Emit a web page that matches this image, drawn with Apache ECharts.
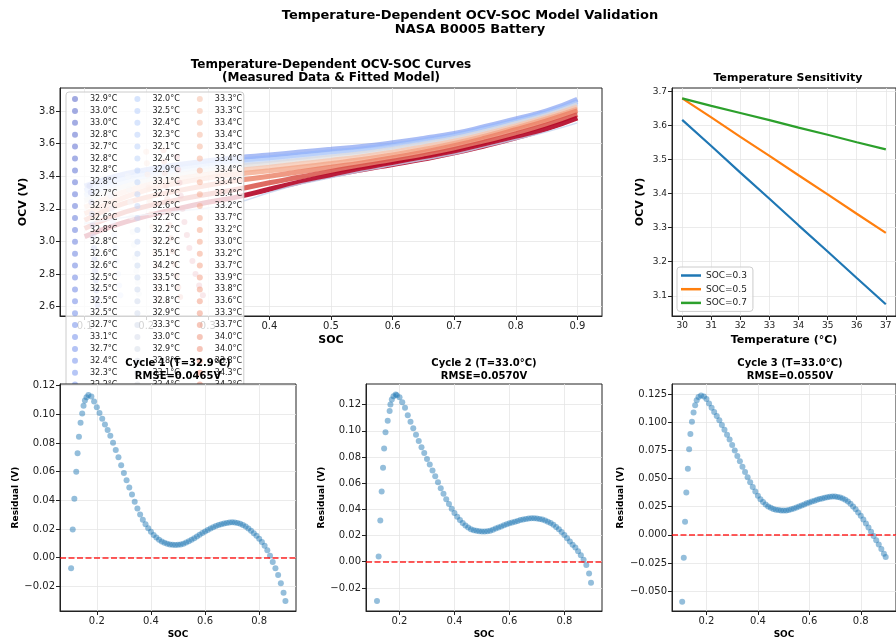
<!DOCTYPE html>
<html>
<head>
<meta charset="utf-8">
<title>Temperature-Dependent OCV-SOC Model Validation</title>
<script src="https://cdn.jsdelivr.net/npm/echarts@6/dist/echarts.min.js"></script>
<style>
  html, body { margin: 0; padding: 0; background: #fff; }
  #chart { width: 896px; height: 640px; }
</style>
</head>
<body>
<div id="chart"></div>
<script>
// ---- data ----
const totalCycles = 168;
// legend columns (visible part): cycles 1-25, 57-81, 113-137
const legendStartCycles = [1, 57, 113];
const tempsCol1 = [32.9, 33.0, 33.0, 32.8, 32.7, 32.8, 32.8, 32.8, 32.7, 32.7, 32.6, 32.8, 32.8, 32.6, 32.6, 32.5, 32.5, 32.5, 32.5, 32.7, 33.1, 32.7, 32.4, 32.3, 32.2];
const tempsCol2 = [32.0, 32.5, 32.4, 32.3, 32.1, 32.4, 32.9, 33.1, 32.7, 32.6, 32.2, 32.2, 32.2, 35.1, 34.2, 33.5, 33.1, 32.8, 32.9, 33.3, 33.0, 32.9, 32.8, 33.1, 32.4];
const tempsCol3 = [33.3, 33.3, 33.4, 33.4, 33.4, 33.4, 33.4, 33.4, 33.4, 33.2, 33.7, 33.2, 33.0, 33.2, 33.7, 33.9, 33.8, 33.6, 33.3, 33.7, 34.0, 34.0, 33.8, 34.3, 34.2];

// fitted OCV curves (representative cycles)
const fitSoc = [0.10, 0.15, 0.20, 0.25, 0.30, 0.35, 0.40, 0.45, 0.50, 0.55, 0.60, 0.65, 0.70, 0.75, 0.80, 0.85, 0.90];
const ocvCycle25  = [3.34, 3.40, 3.44, 3.47, 3.495, 3.515, 3.53, 3.548, 3.565, 3.582, 3.605, 3.632, 3.662, 3.705, 3.752, 3.80, 3.872];
const ocvCycle45  = [3.31, 3.375, 3.42, 3.452, 3.478, 3.498, 3.514, 3.532, 3.55, 3.567, 3.592, 3.62, 3.652, 3.694, 3.741, 3.79, 3.858];
const ocvCycle65  = [3.28, 3.35, 3.40, 3.433, 3.46, 3.481, 3.498, 3.517, 3.536, 3.555, 3.581, 3.61, 3.643, 3.685, 3.732, 3.782, 3.848];
const ocvCycle85  = [3.25, 3.32, 3.375, 3.41, 3.438, 3.46, 3.478, 3.498, 3.518, 3.539, 3.566, 3.597, 3.63, 3.673, 3.722, 3.773, 3.838];
const ocvCycle105 = [3.21, 3.285, 3.345, 3.383, 3.413, 3.436, 3.455, 3.476, 3.497, 3.52, 3.548, 3.58, 3.615, 3.659, 3.709, 3.762, 3.825];
const ocvCycle120 = [3.17, 3.25, 3.315, 3.357, 3.389, 3.413, 3.433, 3.455, 3.478, 3.502, 3.531, 3.564, 3.601, 3.646, 3.697, 3.751, 3.812];
const ocvCycle135 = [3.13, 3.215, 3.27, 3.31, 3.345, 3.375, 3.40, 3.428, 3.455, 3.482, 3.513, 3.548, 3.587, 3.633, 3.685, 3.74, 3.80];
const ocvCycle150 = [3.08, 3.16, 3.215, 3.255, 3.29, 3.322, 3.36, 3.395, 3.43, 3.461, 3.492, 3.526, 3.565, 3.61, 3.66, 3.715, 3.778];
const ocvCycle168 = [3.03, 3.10, 3.155, 3.20, 3.24, 3.275, 3.32, 3.365, 3.405, 3.44, 3.472, 3.505, 3.543, 3.587, 3.635, 3.69, 3.757];
const ocvCycle70  = [3.11, 3.14, 3.165, 3.185, 3.205, 3.24, 3.30, 3.352, 3.39, 3.43, 3.465, 3.50, 3.535, 3.58, 3.625, 3.672, 3.727];

// measured end-of-discharge points (faint cloud at low SOC)
const measuredCycle5 = [[0.108, 3.34], [0.110, 3.30], [0.111, 3.24], [0.112, 3.17], [0.113, 3.10], [0.114, 3.03], [0.115, 2.96], [0.116, 2.89], [0.117, 2.82], [0.118, 2.76], [0.119, 2.70], [0.120, 2.65], [0.121, 2.61]];
const measuredCycle60 = [[0.140, 3.36], [0.142, 3.28], [0.144, 3.20], [0.146, 3.12], [0.148, 3.04], [0.150, 2.96], [0.152, 2.88], [0.154, 2.80], [0.156, 2.73], [0.158, 2.67]];
const measuredCycle80 = [[0.170, 3.40], [0.172, 3.32], [0.174, 3.24], [0.176, 3.15], [0.178, 3.06], [0.180, 2.98], [0.182, 2.90], [0.184, 2.82], [0.186, 2.75], [0.188, 2.68]];
const measuredCycle120 = [[0.200, 3.55], [0.201, 3.48], [0.202, 3.41], [0.204, 3.33], [0.206, 3.25], [0.208, 3.17], [0.210, 3.09], [0.212, 3.01], [0.214, 2.93], [0.216, 2.85], [0.218, 2.78], [0.220, 2.71], [0.222, 2.65]];
const measuredCycle145 = [[0.228, 3.56], [0.229, 3.49], [0.230, 3.42], [0.232, 3.34], [0.234, 3.26], [0.236, 3.18], [0.238, 3.10], [0.240, 3.02], [0.243, 2.94], [0.246, 2.86], [0.249, 2.79], [0.252, 2.72], [0.255, 2.66]];
const measuredCycle165 = [[0.250, 3.52], [0.252, 3.44], [0.254, 3.36], [0.256, 3.28], [0.259, 3.20], [0.262, 3.12], [0.266, 3.04], [0.270, 2.96], [0.275, 2.88], [0.280, 2.80], [0.286, 2.73], [0.292, 2.67]];

// temperature sensitivity
const tempC = [30, 31, 32, 33, 34, 35, 36, 37];
const ocvSoc03 = [3.617, 3.540, 3.462, 3.385, 3.307, 3.230, 3.152, 3.075];
const ocvSoc05 = [3.680, 3.624, 3.567, 3.511, 3.454, 3.398, 3.341, 3.285];
const ocvSoc07 = [3.680, 3.658, 3.637, 3.616, 3.594, 3.573, 3.551, 3.530];

// residuals
const socGrid = [0.19, 0.20, 0.21, 0.22, 0.23, 0.24, 0.25, 0.26, 0.27, 0.28, 0.29, 0.30, 0.31, 0.32, 0.33, 0.34, 0.35, 0.36, 0.37, 0.38, 0.39, 0.40, 0.41, 0.42, 0.43, 0.44, 0.45, 0.46, 0.47, 0.48, 0.49, 0.50, 0.51, 0.52, 0.53, 0.54, 0.55, 0.56, 0.57, 0.58, 0.59, 0.60, 0.61, 0.62, 0.63, 0.64, 0.65, 0.66, 0.67, 0.68, 0.69, 0.70, 0.71, 0.72, 0.73, 0.74, 0.75, 0.76, 0.77, 0.78, 0.79, 0.80, 0.81, 0.82, 0.83, 0.84, 0.85, 0.86, 0.87, 0.88, 0.89];
const socCycle1 = [0.105, 0.111, 0.117, 0.124, 0.129, 0.134, 0.140, 0.146, 0.151, 0.156, 0.162, 0.169, 0.18, ...socGrid, 0.897];
const resCycle1 = [-0.0074, 0.0196, 0.041, 0.060, 0.0729, 0.0844, 0.0941, 0.1006, 0.106, 0.1096, 0.112, 0.1135, 0.1125,
  0.1090, 0.1050, 0.1010, 0.0970, 0.0930, 0.0890, 0.0850, 0.0802, 0.0752, 0.0700,
  0.0645, 0.0590, 0.0540, 0.0490, 0.0440, 0.0390, 0.0342, 0.0300, 0.0265, 0.0232,
  0.0204, 0.0180, 0.0158, 0.0140, 0.0125, 0.0113, 0.0104, 0.0097, 0.0092, 0.0089,
  0.0088, 0.0089, 0.0092, 0.0097, 0.0105, 0.0114, 0.0124, 0.0135, 0.0147, 0.0159,
  0.0171, 0.0182, 0.0193, 0.0203, 0.0212, 0.0220, 0.0227, 0.0233, 0.0238, 0.0242,
  0.0245, 0.0246, 0.0245, 0.0242, 0.0236, 0.0228, 0.0217, 0.0203, 0.0188, 0.0170,
  0.0152, 0.0132, 0.0108, 0.0082, 0.0052, 0.0012, -0.0030, -0.0075, -0.0122, -0.0180,
  -0.0245, -0.0303];
const socCycle2 = [0.118, 0.124, 0.130, 0.135, 0.140, 0.144, 0.149, 0.157, 0.164, 0.167, 0.172, 0.178, 0.186, ...socGrid, 0.897];
const resCycle2 = [-0.030, 0.0041, 0.0315, 0.0537, 0.0718, 0.0865, 0.0988, 0.1077, 0.115, 0.120, 0.1238, 0.1263, 0.1276,
  0.1272, 0.1255, 0.1218, 0.1175, 0.1118, 0.1068, 0.1020, 0.0970, 0.0922, 0.0875,
  0.0830, 0.0785, 0.0742, 0.0697, 0.0652, 0.0607, 0.0562, 0.0520, 0.0478, 0.0440,
  0.0405, 0.0373, 0.0344, 0.0318, 0.0295, 0.0276, 0.0261, 0.0249, 0.0241, 0.0236,
  0.0233, 0.0231, 0.0231, 0.0233, 0.0237, 0.0245, 0.0254, 0.0262, 0.0270, 0.0278,
  0.0286, 0.0293, 0.0300, 0.0306, 0.0312, 0.0318, 0.0323, 0.0327, 0.0330, 0.0332,
  0.0332, 0.0330, 0.0327, 0.0322, 0.0315, 0.0306, 0.0295, 0.0282, 0.0266, 0.0248,
  0.0227, 0.0204, 0.0180, 0.0155, 0.0130, 0.0108, 0.0080, 0.0050, 0.0016, -0.0025,
  -0.0090, -0.016];
const socCycle3 = [0.1056, 0.1118, 0.1167, 0.1216, 0.1277, 0.1326, 0.1375, 0.1436, 0.1498, 0.156, 0.162, 0.169, 0.179, ...socGrid, 0.897];
const resCycle3 = [-0.0594, -0.0203, 0.0115, 0.0376, 0.0585, 0.0758, 0.0894, 0.1002, 0.1085, 0.115, 0.1193, 0.1223, 0.1237,
  0.1228, 0.1205, 0.1165, 0.1127, 0.1090, 0.1053, 0.1016, 0.0975, 0.0932, 0.0888,
  0.0845, 0.0797, 0.0748, 0.0700, 0.0652, 0.0604, 0.0557, 0.0510, 0.0466, 0.0424,
  0.0385, 0.0347, 0.0316, 0.0290, 0.0269, 0.0252, 0.0239, 0.0229, 0.0223, 0.0219,
  0.0216, 0.0215, 0.0216, 0.0220, 0.0226, 0.0233, 0.0242, 0.0251, 0.0260, 0.0270,
  0.0279, 0.0287, 0.0295, 0.0302, 0.0310, 0.0317, 0.0323, 0.0329, 0.0334, 0.0338,
  0.0340, 0.0340, 0.0336, 0.0330, 0.0322, 0.0311, 0.0296, 0.0276, 0.0252, 0.0226,
  0.0198, 0.0168, 0.0135, 0.0100, 0.0064, 0.0027, -0.0010, -0.0048, -0.0087, -0.0127,
  -0.0168, -0.0198];

// tick labels
const ticksSocMain = [0.1, 0.2, 0.3, 0.4, 0.5, 0.6, 0.7, 0.8, 0.9];
const ticksOcvMain = [2.6, 2.8, 3.0, 3.2, 3.4, 3.6, 3.8];
const ticksTemp = [30, 31, 32, 33, 34, 35, 36, 37];
const ticksOcvSens = [3.1, 3.2, 3.3, 3.4, 3.5, 3.6, 3.7];
const ticksSocRes = [0.2, 0.4, 0.6, 0.8];
const ticksRes12 = [-0.02, 0, 0.02, 0.04, 0.06, 0.08, 0.10, 0.12];
const ticksRes3 = [-0.05, -0.025, 0, 0.025, 0.05, 0.075, 0.1, 0.125];

// ---- helpers ----
const FONT = 'DejaVu Sans';
const cw = [[59, 76, 192], [98, 130, 234], [141, 176, 254], [184, 208, 249], [221, 221, 221], [245, 196, 173], [244, 154, 123], [222, 96, 77], [180, 4, 38]];
function coolwarm(t, a) {
  const p = Math.max(0, Math.min(1, t)) * 8;
  const i = Math.min(7, Math.floor(p)), f = p - i;
  const c = cw[i].map((v, k) => Math.round(v + (cw[i + 1][k] - v) * f));
  return 'rgba(' + c.join(',') + ',' + a + ')';
}
const cycleT = n => (n - 1) / (totalCycles - 1);
const cycleColor = (n, a) => coolwarm(cycleT(n), a);

function fmt(d) {
  return v => (v < 0 ? '\u2212' : '') + Math.abs(v).toFixed(d);
}

function axis(grid, min, max, ticks, digits, name, nameGap, o) {
  o = o || {};
  return {
    type: 'value', gridIndex: grid, min: min, max: max,
    name: name, nameLocation: 'middle', nameGap: nameGap,
    nameTextStyle: { fontWeight: 'bold', fontSize: o.nameSize || 11, color: '#000', fontFamily: FONT },
    z: o.z,
    axisLine: { show: true, onZero: false, lineStyle: { color: '#222', width: 1 } },
    axisTick: { show: true, length: 4, customValues: ticks, lineStyle: { color: '#222' } },
    axisLabel: { customValues: ticks, formatter: fmt(digits), fontSize: o.labelSize || 10, color: '#222', margin: 5, fontFamily: FONT },
    splitLine: { show: true, lineStyle: { color: '#e6e6e6', width: 0.8 } }
  };
}

// ---- top-left: cycles ----
const legendCycles = [];
const legendLabels = {};
[tempsCol1, tempsCol2, tempsCol3].forEach((col, c) => {
  col.forEach((t, r) => {
    const n = legendStartCycles[c] + r;
    legendCycles.push(n);
    // last column needs no trailing room
    legendLabels['c' + n] = '{' + (c < 2 ? 't' : 'u') + '|' + t.toFixed(1) + '°C}';
  });
});
const measuredByCycle = { 5: measuredCycle5, 60: measuredCycle60, 80: measuredCycle80, 120: measuredCycle120, 145: measuredCycle145, 165: measuredCycle165 };
const allCycles = Array.from(new Set(legendCycles.concat(Object.keys(measuredByCycle).map(Number)))).sort((a, b) => a - b);

const series = [];
allCycles.forEach(n => {
  series.push({
    name: 'c' + n, type: 'scatter', xAxisIndex: 0, yAxisIndex: 0,
    data: measuredByCycle[n] || [],
    symbolSize: 6, z: 2,
    itemStyle: { color: cycleColor(n, 0.6) },
    emphasis: { disabled: true }
  });
});

const fits = [[25, ocvCycle25], [45, ocvCycle45], [65, ocvCycle65], [85, ocvCycle85], [105, ocvCycle105],
  [120, ocvCycle120], [135, ocvCycle135], [150, ocvCycle150], [168, ocvCycle168]];
fits.forEach(([n, ocv]) => {
  series.push({
    name: 'fit' + n, type: 'line', xAxisIndex: 0, yAxisIndex: 0, z: 2,
    data: fitSoc.map((s, i) => [s, ocv[i]]),
    smooth: true, showSymbol: false, symbol: 'none',
    lineStyle: { color: cycleColor(n, (0.5 + 0.4 * cycleT(n)).toFixed(2)), width: 5 }
  });
});
series.push({
  name: 'fit70', type: 'line', xAxisIndex: 0, yAxisIndex: 0, z: 2,
  data: fitSoc.map((s, i) => [s, ocvCycle70[i]]),
  smooth: true, symbol: 'none',
  lineStyle: { color: cycleColor(70, 0.8), width: 1.5 }
});

// ---- top-right: sensitivity ----
[['SOC=0.3', ocvSoc03, '#1f77b4'], ['SOC=0.5', ocvSoc05, '#ff7f0e'], ['SOC=0.7', ocvSoc07, '#2ca02c']].forEach(([name, ocv, color]) => {
  series.push({
    name: name, type: 'line', xAxisIndex: 1, yAxisIndex: 1,
    data: tempC.map((t, i) => [t, ocv[i]]),
    symbol: 'none', color: color,
    lineStyle: { color: color, width: 2.2 }
  });
});

// ---- bottom: residuals ----
function residual(idx, soc, res, z) {
  return {
    name: 'res' + idx, type: 'scatter', xAxisIndex: idx, yAxisIndex: idx,
    data: soc.map((s, i) => [s, res[i]]),
    symbolSize: 6, z: z,
    itemStyle: { color: 'rgba(31,119,180,0.6)' },
    markLine: {
      silent: true, symbol: 'none', label: { show: false }, z: 9,
      lineStyle: { color: 'rgba(255,0,0,0.85)', type: [6, 2.5], width: 1.5 },
      data: [{ yAxis: 0 }]
    }
  };
}
series.push(residual(2, socCycle1, resCycle1, 8));
series.push(residual(3, socCycle2, resCycle2));
series.push(residual(4, socCycle3, resCycle3));

const gridBase = { show: true, borderColor: '#222', borderWidth: 1, backgroundColor: 'transparent' };
const titleStyle = (size, lh) => ({ fontSize: size, fontWeight: 'bold', lineHeight: lh, color: '#000', fontFamily: FONT });
const legendRich = w => ({ width: w, height: 8, lineHeight: 8, fontSize: 8, color: '#222', fontFamily: FONT });

const option = {
  animation: false,
  textStyle: { fontFamily: FONT },
  title: [
    { text: 'Temperature-Dependent OCV-SOC Model Validation\nNASA B0005 Battery', left: 470, top: 9, textAlign: 'center', padding: 0, z: 10,
      textStyle: titleStyle(13, 14) },
    { text: 'Temperature-Dependent OCV-SOC Curves\n(Measured Data & Fitted Model)', left: 331, top: 58, textAlign: 'center', padding: 0, z: 10,
      textStyle: titleStyle(12, 13.3) },
    { text: 'Temperature Sensitivity', left: 788, top: 72, textAlign: 'center', padding: 0, z: 10,
      textStyle: titleStyle(11, 13) },
    { text: 'Cycle 1 (T=32.9°C)\nRMSE=0.0465V', left: 178, top: 357, textAlign: 'center', padding: 0, z: 10,
      textStyle: titleStyle(10, 13) },
    { text: 'Cycle 2 (T=33.0°C)\nRMSE=0.0570V', left: 484, top: 357, textAlign: 'center', padding: 0, z: 10,
      textStyle: titleStyle(10, 13) },
    { text: 'Cycle 3 (T=33.0°C)\nRMSE=0.0550V', left: 790, top: 357, textAlign: 'center', padding: 0, z: 10,
      textStyle: titleStyle(10, 13) }
  ],
  legend: [
    {
      data: legendCycles.map(n => 'c' + n),
      formatter: name => legendLabels[name],
      orient: 'vertical', left: 66, top: 92, height: 297,
      itemWidth: 20, itemHeight: 6, itemGap: 3.9, icon: 'circle',
      padding: [3, 0, 12, 6],
      backgroundColor: 'rgba(255,255,255,0.8)', borderColor: '#cccccc', borderWidth: 1, borderRadius: 3,
      textStyle: {
        fontSize: 8, color: '#222', fontFamily: FONT,
        rich: { t: legendRich(40.5), u: legendRich(29) }
      },
      selectedMode: false, z: 5
    },
    {
      data: ['SOC=0.3', 'SOC=0.5', 'SOC=0.7'],
      orient: 'vertical', left: 677, top: 267,
      itemWidth: 20, itemHeight: 2.5, itemGap: 4.7, icon: 'rect',
      padding: [4, 6, 4, 4],
      backgroundColor: 'rgba(255,255,255,0.8)', borderColor: '#cccccc', borderWidth: 1, borderRadius: 3,
      textStyle: { fontSize: 9, color: '#222', fontFamily: FONT },
      selectedMode: false
    }
  ],
  grid: [
    Object.assign({ left: 60, top: 88, width: 542, height: 228 }, gridBase),
    Object.assign({ left: 672, top: 88, width: 233, height: 228 }, gridBase),
    Object.assign({}, gridBase, { left: 60, top: 384, width: 236, height: 229, backgroundColor: '#fff', z: 6 }),
    Object.assign({ left: 366, top: 384, width: 236, height: 229 }, gridBase),
    Object.assign({ left: 672, top: 384, width: 236, height: 229 }, gridBase)
  ],
  xAxis: [
    axis(0, 0.06, 0.94, ticksSocMain, 1, 'SOC', 19),
    axis(1, 29.65, 37.35, ticksTemp, 0, 'Temperature (°C)', 19, { labelSize: 9 }),
    axis(2, 0.064, 0.936, ticksSocRes, 1, 'SOC', 19, { nameSize: 9, z: 7 }),
    axis(3, 0.078, 0.937, ticksSocRes, 1, 'SOC', 19, { nameSize: 9 }),
    axis(4, 0.066, 0.937, ticksSocRes, 1, 'SOC', 19, { nameSize: 9 })
  ],
  yAxis: [
    axis(0, 2.543, 3.941, ticksOcvMain, 1, 'OCV (V)', 24),
    axis(1, 3.0405, 3.7105, ticksOcvSens, 1, 'OCV (V)', 26, { labelSize: 9 }),
    axis(2, -0.0373, 0.1212, ticksRes12, 2, 'Residual (V)', 40, { nameSize: 9, z: 7 }),
    axis(3, -0.0376, 0.1357, ticksRes12, 2, 'Residual (V)', 40, { nameSize: 9 }),
    axis(4, -0.0676, 0.1338, ticksRes3, 3, 'Residual (V)', 47, { nameSize: 9 })
  ],
  series: series
};

const myChart = echarts.init(document.getElementById('chart'), null, { renderer: 'canvas' });
myChart.setOption(option);
</script>
</body>
</html>
